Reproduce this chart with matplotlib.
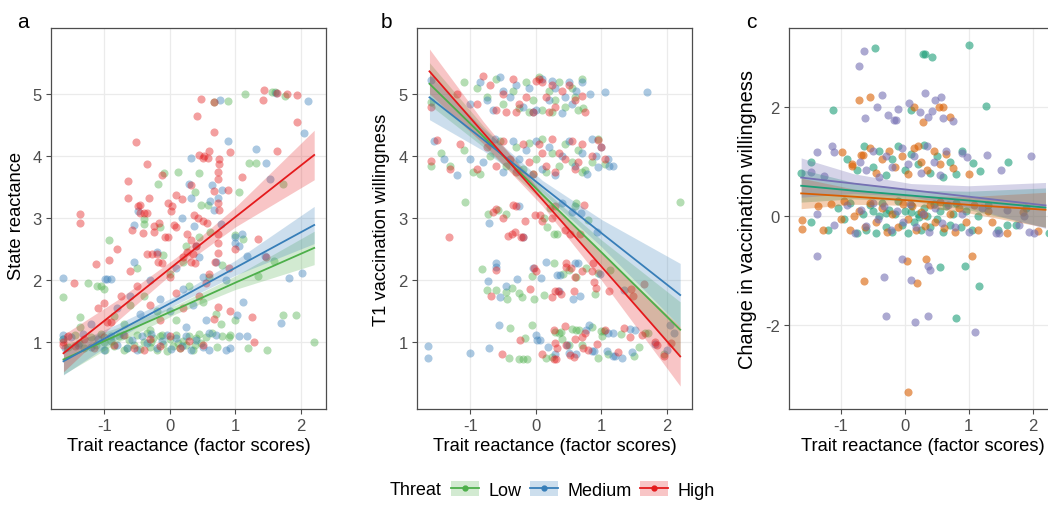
import numpy as np
import matplotlib
matplotlib.use("Agg")
from matplotlib import pyplot as plt
from matplotlib.patches import Patch
from matplotlib.lines import Line2D

plt.rcParams['font.family'] = ['Liberation Sans', 'DejaVu Sans']
plt.rcParams['axes.unicode_minus'] = False

# ---- data ----
groups = ['Low', 'Medium', 'High']
colors = {'Low': '#4DAF4A', 'Medium': '#377EB8', 'High': '#E41A1C'}
c_groups = ['g1', 'g2', 'g3']
c_colors = {'g1': '#1B9E77', 'g2': '#D95F02', 'g3': '#7570B3'}

# panel a : state reactance vs trait reactance
a_low = [(-1.62, 1.05), (-1.55, 0.92), (-1.45, 1.12), (-1.38, 0.98), (-1.3, 0.9), (-1.2, 1.08), (-1.12, 0.95),
         (-1.05, 1.13), (-0.98, 0.88), (-0.9, 1.02), (-0.85, 0.93), (-0.78, 1.1), (-0.7, 0.87), (-0.62, 1.04),
         (-0.55, 0.96), (-0.5, 1.12), (-0.45, 0.89), (-0.4, 1.0), (-0.35, 1.14), (-0.3, 0.92), (-0.25, 1.06),
         (-0.2, 0.88), (-0.15, 1.1), (-0.1, 0.97), (-0.05, 0.86), (0.0, 1.05), (0.05, 0.93), (0.1, 1.12),
         (0.15, 0.9), (0.2, 1.02), (0.25, 0.95), (0.3, 1.1), (0.35, 0.88), (0.4, 1.06), (0.45, 1.13), (0.48, 0.98),
         (0.55, 1.08), (0.65, 1.14), (0.72, 0.92), (0.8, 1.1), (0.9, 1.08), (-0.65, 0.9), (-0.28, 1.0), (0.12, 0.98),
         (0.38, 0.95), (-1.0, 1.0), (-0.12, 1.12),
         (-1.62, 1.73), (-1.37, 1.40), (-1.37, 1.25), (-1.24, 1.96), (-1.11, 1.90), (-1.05, 1.90), (-1.01, 1.85),
         (-0.93, 2.65), (-0.85, 1.42), (-0.39, 2.98), (-0.39, 2.9), (-0.18, 3.55), (-0.09, 3.73), (0.12, 3.74),
         (0.39, 3.42), (0.44, 3.73), (0.48, 3.22), (0.58, 3.22), (0.68, 4.87), (0.89, 4.89), (1.15, 5.0),
         (1.55, 5.04), (1.60, 5.04), (1.75, 4.98), (1.06, 3.42), (1.20, 3.89), (1.32, 3.89), (1.73, 3.55),
         (0.62, 2.78), (0.99, 2.73), (1.11, 2.66), (1.35, 2.07), (1.59, 2.31), (1.73, 1.43), (1.93, 1.43),
         (1.00, 1.36), (1.19, 0.9), (1.48, 0.87), (2.2, 1.0), (0.91, 1.11), (0.78, 1.30), (-0.6, 1.6), (-0.4, 1.75),
         (-0.2, 1.5), (0.0, 2.1), (0.2, 2.3), (0.3, 1.9), (0.5, 1.65), (-0.7, 1.3), (-0.3, 1.2), (0.1, 1.35),
         (0.6, 2.05), (0.25, 2.55), (-0.1, 2.4), (0.45, 2.7), (0.7, 1.45), (-0.5, 2.2), (0.8, 2.25), (-0.15, 2.85)]
a_medium = [(-1.63, 1.12), (-1.63, 1.05), (-1.6, 0.9), (-1.5, 1.08), (-1.4, 0.95), (-1.33, 1.13), (-1.2, 0.92),
            (-1.1, 1.05), (-1.0, 0.88), (-0.9, 1.1), (-0.8, 0.95), (-0.72, 1.12), (-0.65, 0.9), (-0.58, 1.04),
            (-0.5, 0.87), (-0.42, 1.1), (-0.35, 0.98), (-0.28, 1.13), (-0.2, 0.9), (-0.12, 1.02), (-0.05, 1.12),
            (0.02, 0.89), (0.1, 1.06), (0.18, 0.94), (0.25, 1.1), (0.32, 0.88), (0.4, 1.03), (0.5, 0.92),
            (0.6, 0.88), (0.7, 1.12), (0.85, 0.88),
            (-1.63, 2.03), (-0.99, 2.02), (-0.95, 2.02), (-0.9, 2.02), (-0.48, 3.11), (-0.54, 2.89), (0.18, 3.0),
            (0.29, 3.55), (0.33, 3.97), (0.33, 3.33), (0.37, 2.88), (0.44, 2.38), (0.64, 3.54), (0.61, 3.27),
            (0.73, 3.32), (0.80, 3.46), (0.76, 4.90), (0.89, 4.24), (1.31, 4.11), (1.47, 3.89), (1.53, 3.63),
            (1.62, 5.02), (2.10, 4.89), (2.05, 4.37), (0.68, 3.14), (0.78, 2.9), (1.0, 2.7), (1.0, 2.6), (1.10, 2.75),
            (1.05, 2.55), (1.17, 2.39), (1.45, 2.39), (1.82, 2.03), (2.01, 2.12), (1.69, 1.31), (1.12, 1.64),
            (1.03, 1.43), (1.05, 1.1), (1.17, 1.1), (0.92, 0.9), (-0.8, 1.55), (-0.6, 1.75), (-0.45, 1.45),
            (-0.3, 2.0), (-0.15, 1.7), (0.0, 1.5), (0.1, 2.2), (0.2, 1.85), (0.35, 1.6), (0.5, 2.05), (0.55, 1.35),
            (0.7, 2.3), (0.85, 2.0), (-0.2, 2.45), (0.4, 2.55), (-1.2, 1.3), (-0.55, 2.3), (0.6, 1.15), (0.25, 1.25)]
a_high = [(-1.63, 1.0), (-1.63, 0.96), (-1.55, 1.1), (-1.45, 0.93), (-1.3, 1.05), (-1.15, 0.9), (-1.0, 1.08),
          (-0.85, 0.95), (-0.7, 1.12), (-0.55, 0.9), (-0.4, 0.87), (-0.3, 1.05), (-0.15, 0.93), (0.0, 1.1),
          (0.15, 0.9), (0.3, 1.02), (0.5, 0.95),
          (-1.46, 1.96), (-1.37, 3.06), (-1.37, 2.92), (-1.13, 2.26), (-0.92, 2.33), (-1.09, 1.55), (-1.01, 1.63),
          (-0.95, 1.33), (-0.9, 1.33), (-0.52, 4.23), (-0.63, 3.60), (-0.63, 3.32), (-0.35, 3.88), (-0.46, 3.21),
          (-0.32, 3.32), (-0.35, 3.09), (-0.12, 3.69), (-0.02, 3.25), (0.03, 3.19), (0.10, 3.38), (0.18, 3.31),
          (0.33, 3.54), (0.41, 4.65), (0.48, 4.92), (0.68, 4.87), (0.68, 4.39), (0.45, 4.02), (0.50, 3.97),
          (0.52, 4.0), (0.58, 3.97), (0.59, 4.08), (0.75, 3.95), (0.75, 3.88), (0.92, 4.07), (0.74, 3.74),
          (0.73, 3.63), (0.89, 3.45), (0.68, 3.44), (1.10, 3.67), (1.63, 4.09), (1.43, 5.07), (1.42, 4.91),
          (1.63, 5.02), (1.78, 5.0), (1.94, 4.99), (1.94, 4.55), (-0.49, 3.2), (-0.45, 3.08), (-0.4, 3.08),
          (-0.57, 2.81), (-0.41, 2.76), (-0.24, 2.88), (-0.24, 2.77), (-0.16, 2.93), (-0.34, 2.42), (-0.27, 2.42),
          (-0.2, 2.42), (-0.18, 2.3), (-0.12, 2.28), (-0.07, 2.69), (-0.02, 2.69), (0.07, 2.89), (0.09, 2.85),
          (0.02, 3.12), (0.37, 3.05), (0.43, 3.0), (0.5, 2.95), (0.57, 2.93), (0.26, 2.75), (0.33, 2.65),
          (0.4, 2.55), (0.26, 2.45), (0.35, 2.42), (0.2, 2.38), (0.33, 2.3), (0.38, 2.28), (0.73, 3.25),
          (0.75, 3.13), (0.73, 2.6), (0.73, 2.44), (0.69, 2.3), (0.74, 2.74), (1.34, 2.66), (1.47, 2.38),
          (1.26, 1.40), (1.28, 1.0), (0.91, 1.50), (0.73, 1.56), (0.68, 1.37), (-0.6, 2.15), (-0.75, 1.75),
          (-0.5, 1.9), (-0.3, 1.6), (0.0, 2.05), (0.1, 1.8), (0.45, 1.75), (0.55, 1.95), (-0.8, 2.5), (-0.15, 1.35),
          (0.2, 1.55), (0.6, 2.1), (0.9, 2.2), (1.0, 2.5)]

# panel b : T1 vaccination willingness vs trait reactance
b_low = [(-1.59, 4.88), (-1.1, 5.2), (-0.9, 5.1), (-0.75, 4.95), (-0.6, 5.25), (-0.5, 4.85), (-0.35, 5.05),
         (-0.25, 4.78), (-0.15, 5.2), (-0.05, 4.9), (0.05, 5.28), (0.1, 4.75), (0.2, 5.05), (0.3, 4.9), (0.35, 5.2),
         (0.45, 4.8), (0.55, 5.1), (0.6, 4.95), (0.7, 5.25), (0.72, 4.78), (0.65, 4.75), (-0.1, 4.72), (0.25, 4.72),
         (-1.6, 3.85), (-1.45, 4.05), (-1.3, 3.85), (-1.1, 4.1), (-0.95, 3.75), (-0.85, 3.72), (-0.7, 4.0),
         (-0.55, 4.25), (-0.45, 3.85), (-0.3, 4.15), (-0.2, 3.8), (-0.1, 4.22), (0.0, 3.95), (0.1, 4.28),
         (0.15, 3.75), (0.25, 4.05), (0.35, 3.85), (0.45, 4.2), (0.55, 3.9), (0.65, 4.1), (0.75, 3.78), (0.85, 3.9),
         (0.95, 4.28), (1.05, 3.88), (0.7, 3.75), (-0.05, 3.72),
         (-1.08, 3.26), (-0.73, 3.06), (-0.57, 3.14), (-0.46, 3.06), (0.27, 2.75), (0.33, 2.75), (0.17, 2.86),
         (0.22, 3.17), (0.6, 3.2), (0.62, 3.25), (0.8, 2.97), (2.2, 3.26), (0.12, 3.0),
         (-0.82, 2.18), (-0.74, 1.84), (-0.6, 1.84), (-0.45, 1.81), (-0.44, 1.70), (-0.36, 1.87), (-0.26, 1.80),
         (-0.21, 1.72), (-0.06, 2.06), (-0.02, 1.70), (0.13, 1.76), (0.28, 2.27), (0.51, 2.16), (0.77, 2.19),
         (0.9, 1.78), (0.95, 2.11), (1.13, 2.17), (0.62, 2.05), (0.42, 2.1),
         (-0.41, 0.75), (-0.39, 1.23), (-0.16, 1.07), (-0.25, 0.73), (-0.19, 0.73), (-0.13, 0.73), (-0.06, 1.27),
         (0.24, 0.76), (0.3, 1.17), (0.35, 1.15), (0.39, 1.17), (0.55, 1.21), (0.61, 1.19), (0.7, 0.96),
         (0.66, 1.20), (0.95, 0.74), (1.01, 1.1), (1.0, 1.18), (1.04, 1.18), (1.1, 0.81), (1.3, 1.13), (1.5, 0.77),
         (1.58, 0.92), (1.66, 1.15), (1.71, 1.15), (1.96, 0.81), (0.4, 1.05), (0.5, 0.95), (0.85, 1.25),
         (0.15, 0.75)]
b_medium = [(-1.59, 5.23), (-1.0, 4.85), (-0.85, 5.2), (-0.75, 4.9), (-0.65, 4.75), (-0.55, 5.28), (-0.4, 4.95),
            (-0.3, 5.15), (-0.2, 4.8), (-0.1, 5.1), (0.0, 4.75), (0.1, 5.25), (0.2, 4.9), (0.3, 5.1), (0.4, 4.7),
            (0.45, 4.95), (0.5, 5.2), (0.55, 4.85), (0.62, 5.05), (0.7, 5.2), (0.83, 5.0), (1.05, 5.03),
            (1.69, 5.03), (-0.05, 4.72), (0.25, 5.22), (-0.5, 5.05),
            (-1.55, 4.25), (-1.4, 3.95), (-1.2, 3.7), (-1.0, 3.95), (-0.8, 3.9), (-0.62, 4.28), (-0.5, 3.75),
            (-0.35, 4.25), (-0.25, 3.95), (-0.15, 4.1), (0.0, 4.25), (0.1, 3.8), (0.2, 4.15), (0.3, 3.7), (0.4, 4.0),
            (0.5, 4.25), (0.6, 3.85), (0.7, 4.05), (0.78, 3.72), (0.85, 4.28), (0.92, 4.0), (1.0, 4.15),
            (1.12, 3.85), (1.18, 3.84), (1.1, 3.95), (0.95, 3.82),
            (-0.71, 2.92), (-0.25, 3.2), (-0.2, 2.7), (0.55, 3.1), (0.69, 3.09), (0.93, 2.78), (0.4, 3.25),
            (-0.73, 1.98), (-0.61, 2.27), (-0.61, 2.22), (-0.54, 1.72), (-0.45, 1.90), (-0.29, 2.02), (0.08, 2.03),
            (0.15, 2.3), (0.32, 2.08), (0.37, 2.08), (0.36, 1.82), (0.57, 1.70), (0.6, 2.27), (0.65, 2.27),
            (0.68, 1.75), (0.98, 2.1), (1.35, 1.84), (-0.05, 2.2),
            (-1.64, 0.94), (-1.64, 0.75), (-1.0, 0.83), (-0.71, 0.91), (-0.56, 1.27), (0.0, 1.12), (0.02, 1.04),
            (0.06, 1.04), (0.18, 0.92), (0.48, 0.96), (0.5, 0.82), (0.61, 0.81), (0.76, 1.20), (0.81, 1.27),
            (0.86, 0.85), (0.89, 0.85), (1.08, 0.86), (1.1, 1.15), (1.17, 0.78), (1.2, 0.78), (1.18, 1.15),
            (1.31, 0.74), (1.44, 1.21), (1.51, 1.19), (1.46, 0.84), (1.82, 0.97), (2.05, 1.27), (2.1, 1.15),
            (2.0, 0.88), (0.3, 0.8)]
b_high = [(-1.59, 4.8), (-1.2, 5.0), (-0.9, 4.85), (-0.8, 5.3), (-0.7, 5.15), (-0.6, 4.75), (-0.5, 5.0),
          (-0.45, 4.72), (-0.35, 5.25), (-0.25, 4.85), (-0.15, 4.95), (-0.05, 4.72), (0.0, 5.22), (0.05, 5.25),
          (0.1, 5.2), (0.15, 4.95), (0.25, 5.15), (0.3, 4.8), (0.4, 5.05), (0.5, 5.15), (0.6, 4.9), (0.7, 4.98),
          (0.75, 4.72), (-0.3, 4.72), (0.2, 4.72),
          (-1.59, 3.92), (-1.5, 4.27), (-1.3, 3.8), (-1.15, 4.2), (-0.9, 3.8), (-0.75, 4.15), (-0.6, 3.85),
          (-0.5, 4.25), (-0.4, 3.95), (-0.3, 3.75), (-0.2, 4.2), (-0.1, 3.9), (0.05, 4.2), (0.15, 3.85),
          (0.25, 4.28), (0.3, 3.75), (0.35, 4.05), (0.45, 3.95), (0.55, 4.25), (0.6, 3.8), (0.7, 4.2), (0.85, 4.0),
          (0.95, 4.27), (1.0, 4.15), (1.05, 3.95), (0.65, 3.9), (-0.05, 3.72), (0.1, 4.05),
          (-1.33, 2.70), (-0.65, 3.1), (-0.6, 3.15), (-0.5, 3.0), (-0.42, 2.71), (-0.36, 2.75), (-0.31, 2.78),
          (-0.35, 3.22), (-0.3, 3.2), (-0.23, 2.70), (-0.2, 2.70), (-0.16, 2.96), (-0.01, 3.05), (0.07, 3.05),
          (0.24, 3.0), (0.3, 3.2), (0.44, 2.81), (0.52, 2.75), (0.67, 2.75), (0.73, 3.21), (0.1, 2.95),
          (-0.69, 1.75), (-0.61, 2.16), (-0.09, 1.86), (-0.02, 2.2), (0.0, 2.15), (0.29, 1.83), (0.34, 1.83),
          (0.39, 1.77), (0.24, 1.72), (0.46, 2.27), (0.46, 2.22), (0.54, 2.19), (0.58, 1.82), (0.6, 2.05),
          (0.85, 2.14), (0.87, 2.28), (0.89, 1.97), (0.92, 1.88), (1.12, 1.83), (1.45, 1.85), (1.48, 1.74),
          (1.65, 1.93), (0.7, 2.15),
          (-0.51, 0.80), (-0.24, 1.04), (0.1, 0.81), (0.27, 1.20), (0.28, 0.72), (0.31, 0.72), (0.3, 0.98),
          (0.33, 0.91), (0.44, 1.26), (0.46, 0.96), (0.52, 0.79), (0.58, 0.76), (0.7, 1.09), (0.75, 1.15),
          (0.72, 0.91), (0.79, 0.87), (0.94, 0.97), (1.25, 0.84), (1.34, 1.22), (1.43, 1.09), (1.62, 1.11),
          (1.81, 1.0), (1.84, 0.96), (1.95, 0.77), (2.06, 0.98), (0.6, 1.05), (1.05, 1.2)]

# panel c : change in vaccination willingness vs trait reactance
c_g1 = [(-1.47, -0.1), (-1.2, -0.25), (-1.05, 0.15), (-0.95, -0.05), (-0.85, 0.25), (-0.75, -0.3), (-0.65, 0.05),
        (-0.6, -0.25), (-0.55, 0.2), (-0.5, 0.1), (-0.45, -0.3), (-0.4, 0.0), (-0.35, 0.25), (-0.3, -0.2),
        (-0.25, 0.12), (-0.2, -0.28), (-0.15, 0.05), (-0.1, 0.28), (-0.05, -0.15), (0.0, 0.1), (0.05, -0.3),
        (0.1, 0.2), (0.15, -0.1), (0.2, 0.05), (0.25, -0.25), (0.3, 0.15), (0.35, 0.0), (0.4, -0.2), (0.45, 0.22),
        (0.5, -0.05), (0.55, 0.1), (0.6, -0.28), (0.65, 0.18), (0.7, -0.15), (0.75, 0.05), (0.8, 0.25),
        (0.88, -0.2), (0.95, 0.1), (1.05, -0.25), (1.15, 0.0), (1.3, 0.2), (1.45, -0.25), (1.6, -0.15),
        (1.74, -0.16), (2.26, -0.3), (1.9, 0.15), (-0.3, 0.06), (0.1, 0.07), (0.22, -0.02),
        (-1.63, 0.80), (-1.47, 1.0), (-0.75, 0.84), (-0.63, 1.29), (-0.5, 0.9), (-0.4, 1.2), (-0.3, 0.75),
        (-0.2, 1.05), (-0.1, 1.28), (0.0, 0.85), (0.1, 1.15), (0.2, 0.95), (0.3, 1.3), (0.4, 0.8), (0.5, 1.1),
        (0.6, 0.72), (0.7, 1.0), (0.8, 0.78), (0.9, 1.2), (1.06, 0.98), (1.18, 0.83), (1.62, 1.0), (-0.9, 1.05),
        (-1.12, 1.94), (-0.47, 3.09), (0.28, 2.98), (0.31, 2.98), (0.43, 2.91), (1.0, 3.14), (0.10, 1.94),
        (1.27, 2.02), (0.55, -0.92), (0.94, -0.91), (1.16, -1.27), (0.8, -1.87)]
c_g2 = [(-1.6, -0.07), (-1.6, -0.23), (-1.35, 0.18), (-1.28, -0.25), (-1.15, 0.22), (-1.0, -0.05), (-0.95, 0.28),
        (-0.85, -0.25), (-0.72, 0.1), (-0.62, -0.2), (-0.55, 0.25), (-0.45, -0.1), (-0.35, 0.15), (-0.28, -0.28),
        (-0.2, 0.05), (-0.1, -0.2), (-0.02, 0.22), (0.05, -0.05), (0.12, 0.18), (0.18, -0.25), (0.25, 0.08),
        (0.32, -0.18), (0.4, 0.2), (0.48, -0.1), (0.55, 0.26), (0.62, -0.22), (0.7, 0.05), (0.78, -0.28),
        (0.85, 0.15), (0.95, -0.1), (1.08, 0.2), (1.15, -0.25), (1.3, 0.1), (1.37, -0.11), (1.6, -0.3),
        (1.85, 0.08), (2.08, -0.27), (-0.8, 0.0), (0.3, 0.02),
        (-0.98, 1.17), (-0.83, 0.96), (-0.83, 0.92), (-0.68, 1.13), (-0.65, 1.13), (-0.55, 1.25), (-0.45, 0.8),
        (-0.35, 1.05), (-0.25, 1.2), (-0.15, 0.9), (-0.05, 1.1), (0.05, 0.78), (0.15, 1.25), (0.25, 1.0),
        (0.35, 0.85), (0.45, 1.2), (0.55, 0.95), (0.65, 1.15), (0.75, 0.88), (1.0, 0.77), (0.2, 1.28),
        (-0.72, 2.13), (-0.55, 2.18), (0.14, 2.0), (0.28, 1.73), (0.54, 2.0), (0.6, 2.0), (0.71, 1.82),
        (-0.63, -1.19), (0.03, -0.82), (0.19, -1.22), (0.33, -0.78), (1.05, -0.73), (0.05, -3.22)]
c_g3 = [(-1.38, 0.04), (-1.1, -0.15), (-0.9, 0.2), (-0.78, -0.3), (-0.68, 0.12), (-0.6, -0.18), (-0.5, 0.25),
        (-0.42, -0.05), (-0.32, 0.18), (-0.22, -0.25), (-0.12, 0.1), (-0.02, -0.1), (0.08, 0.22), (0.18, -0.2),
        (0.28, 0.05), (0.38, -0.28), (0.48, 0.15), (0.58, -0.12), (0.68, 0.2), (0.78, -0.2), (0.9, 0.05),
        (1.0, -0.28), (1.2, 0.15), (1.42, -0.3), (1.48, -0.3), (1.6, 0.12), (1.78, -0.15), (1.87, 0.0),
        (1.95, -0.28), (2.02, -0.3),
        (-1.47, 0.82), (-1.38, 1.17), (-1.27, 0.74), (-1.14, 1.29), (-1.1, 1.17), (-0.7, 1.0), (-0.6, 0.85),
        (-0.5, 1.2), (-0.4, 0.72), (-0.3, 1.1), (-0.2, 0.9), (-0.05, 1.25), (0.05, 0.95), (0.15, 1.1), (0.25, 0.8),
        (0.35, 1.28), (0.45, 1.0), (0.55, 0.75), (0.65, 1.2), (0.9, 1.16), (0.98, 1.08), (1.28, 1.12), (1.5, 0.84),
        (1.97, 1.10),
        (-0.64, 3.02), (-0.71, 2.76), (-0.36, 2.23), (-0.44, 2.01), (-0.62, 1.80), (-0.26, 1.86), (-0.17, 1.77),
        (-0.14, 1.77), (-0.11, 1.96), (0.06, 2.08), (0.24, 1.92), (0.32, 2.26), (0.36, 1.82), (0.42, 1.93),
        (0.47, 2.13), (0.57, 2.19), (0.59, 1.80), (0.75, 1.74), (-1.38, -0.73), (-0.32, -1.11), (-0.3, -1.82),
        (-0.05, -0.78), (0.1, -1.16), (0.16, -1.94), (0.36, -1.82), (0.36, -0.91), (0.4, -0.99), (1.1, -2.12)]

# fitted lines with 95% bands, read at these x positions
fit_x = [-1.62, -0.8, 0.1, 1.0, 2.2]
a_fit = {'Low': ([0.72, 1.11, 1.53, 1.96, 2.52], [0.48, 0.99, 1.46, 1.85, 2.25], [0.96, 1.23, 1.60, 2.07, 2.79]),
         'Medium': ([0.69, 1.17, 1.68, 2.20, 2.89], [0.47, 1.05, 1.61, 2.08, 2.59], [0.91, 1.29, 1.75, 2.32, 3.19]),
         'High': ([0.82, 1.51, 2.27, 3.02, 4.02], [0.52, 1.34, 2.17, 2.86, 3.62], [1.12, 1.68, 2.37, 3.18, 4.42])}
b_fit = {'Low': ([5.17, 4.32, 3.38, 2.45, 1.20], [4.83, 4.15, 3.28, 2.25, 0.75], [5.51, 4.49, 3.48, 2.65, 1.65]),
         'Medium': ([4.95, 4.27, 3.51, 2.76, 1.76], [4.59, 4.09, 3.41, 2.54, 1.25], [5.31, 4.45, 3.61, 2.98, 2.27]),
         'High': ([5.37, 4.38, 3.30, 2.22, 0.77], [5.01, 4.20, 3.20, 2.00, 0.29], [5.73, 4.56, 3.40, 2.44, 1.25])}
c_fit = {'g1': ([0.56, 0.47, 0.38, 0.29, 0.16], [0.26, 0.32, 0.28, 0.12, -0.20], [0.86, 0.62, 0.48, 0.46, 0.52]),
         'g2': ([0.42, 0.36, 0.29, 0.21, 0.12], [0.14, 0.22, 0.20, 0.06, -0.20], [0.70, 0.50, 0.38, 0.36, 0.44]),
         'g3': ([0.71, 0.60, 0.48, 0.36, 0.20], [0.35, 0.42, 0.36, 0.16, -0.22], [1.07, 0.78, 0.60, 0.56, 0.62])}

xticks = [-1, 0, 1, 2]
W, H = 1048, 506


def px_axes(fig, left, top, right, bottom):
    return fig.add_axes([left / W, 1 - bottom / H, (right - left) / W, (bottom - top) / H])


def style(ax, ylim, yticks):
    ax.set_xlim(-1.81, 2.38)
    ax.set_ylim(*ylim)
    ax.set_xticks(xticks)
    ax.set_yticks(yticks)
    ax.grid(True, color='#EBEBEB', lw=0.9)
    ax.set_axisbelow(True)
    for s in ax.spines.values():
        s.set_color('#4D4D4D')
        s.set_linewidth(0.9)
    ax.tick_params(colors='#4D4D4D', labelcolor='#4D4D4D', labelsize=12, length=3.5, width=0.8, pad=3)
    ax.set_xlabel('Trait reactance (factor scores)', fontsize=13.2, color='black')
    ax.xaxis.set_label_coords(0.5, -0.074)


def draw(ax, pts, fits, keys, cols, pt_alpha, band_alpha):
    for k in keys:
        xy = np.array(pts[k])
        ax.scatter(xy[:, 0], xy[:, 1], s=34, color=cols[k], alpha=pt_alpha, linewidths=0, zorder=2)
    for k in keys:
        line, lo, hi = fits[k]
        ax.fill_between(fit_x, lo, hi, color=cols[k], alpha=band_alpha, lw=0, zorder=3)
        ax.plot(fit_x, line, color=cols[k], lw=1.3, zorder=4)


fig = plt.figure(figsize=(W / 100, H / 100), dpi=100)

ax_a = px_axes(fig, 51, 29, 326, 410)
style(ax_a, (-0.08, 6.07), [1, 2, 3, 4, 5])
draw(ax_a, {'Low': a_low, 'Medium': a_medium, 'High': a_high}, a_fit, groups, colors, 0.42, 0.25)
ax_a.set_ylabel('State reactance', fontsize=13.2)
ax_a.yaxis.set_label_coords(-0.095, 0.51)

ax_b = px_axes(fig, 417, 29, 692, 410)
style(ax_b, (-0.08, 6.07), [1, 2, 3, 4, 5])
draw(ax_b, {'Low': b_low, 'Medium': b_medium, 'High': b_high}, b_fit, groups, colors, 0.42, 0.25)
ax_b.set_ylabel('T1 vaccination willingness', fontsize=13.2)
ax_b.yaxis.set_label_coords(-0.098, 0.5)

ax_c = px_axes(fig, 789, 29, 1057, 410)
style(ax_c, (-3.53, 3.45), [-2, 0, 2])
draw(ax_c, {'g1': c_g1, 'g2': c_g2, 'g3': c_g3}, c_fit, c_groups, c_colors, 0.6, 0.3)
ax_c.set_ylabel('Change in vaccination willingness', fontsize=14.4)
ax_c.yaxis.set_label_coords(-0.119, 0.5)

for x, lab in [(23, 'a'), (386, 'b'), (751, 'c')]:
    fig.text(x / W, 1 - 28 / H, lab, fontsize=15, ha='center', va='baseline')

# legend
handles = [(Patch(facecolor=colors[g], alpha=0.25, lw=0),
            Line2D([], [], color=colors[g], lw=1.3, marker='o', markersize=3.5)) for g in groups]
fig.text(390 / W, 1 - 491 / H, 'Threat', fontsize=13, ha='left', va='center')
fig.legend(handles, groups, loc='center left', bbox_to_anchor=(451 / W, 1 - 491 / H), ncol=3,
           frameon=False, fontsize=13, handlelength=1.55, handleheight=0.9, handletextpad=0.5,
           columnspacing=0.5, borderpad=0, borderaxespad=0)

fig.savefig('out.png', dpi=100)
